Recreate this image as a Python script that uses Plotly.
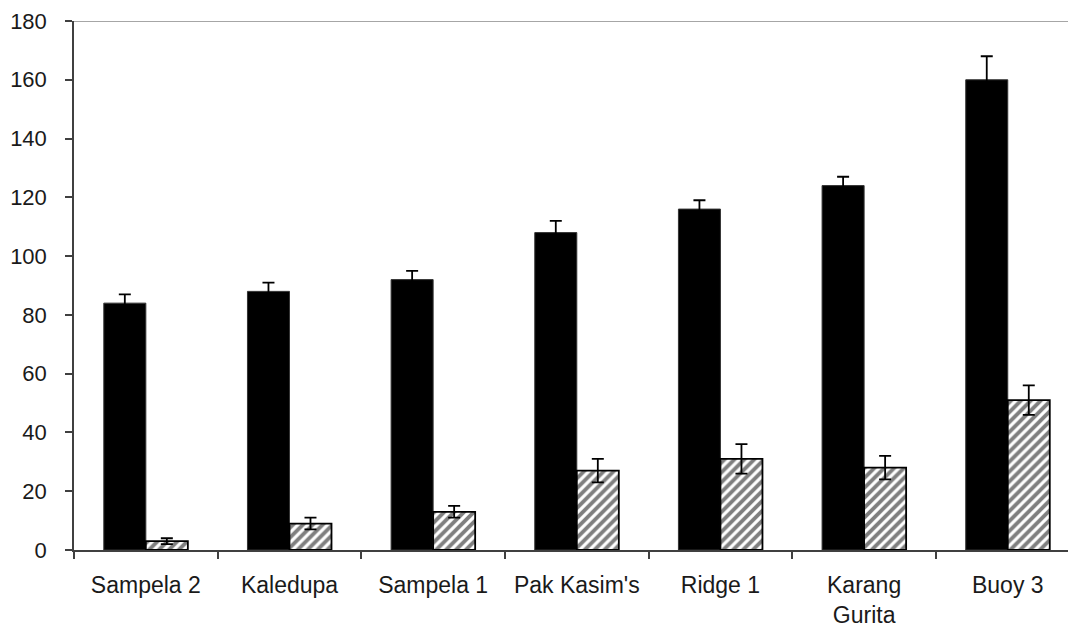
import plotly.graph_objects as go

sites = ["Sampela 2", "Kaledupa", "Sampela 1", "Pak Kasim's", "Ridge 1", "Karang<br>Gurita", "Buoy 3"]
solid_vals = [84, 88, 92, 108, 116, 124, 160]
solid_err = [3, 3, 3, 4, 3, 3, 8]
hatch_vals = [3, 9, 13, 27, 31, 28, 51]
hatch_err = [1, 2, 2, 4, 5, 4, 5]
y_ticks = [0, 20, 40, 60, 80, 100, 120, 140, 160, 180]

fig = go.Figure()
fig.add_trace(go.Bar(
    x=sites, y=solid_vals,
    marker=dict(color="black", line=dict(color="#333333", width=1)),
    error_y=dict(type="data", array=solid_err, color="black", thickness=1.8, width=6),
    showlegend=False,
))
fig.add_trace(go.Bar(
    x=sites, y=hatch_vals,
    marker=dict(color="white", line=dict(color="black", width=1.8),
                pattern=dict(shape="/", fgcolor="black", bgcolor="white", size=7, solidity=0.55)),
    error_y=dict(type="data", array=hatch_err, color="black", thickness=1.8, width=6),
    showlegend=False,
))

fig.add_shape(type="line", xref="paper", yref="y", x0=0, x1=1, y0=180, y1=180,
              line=dict(color="#a6a6a6", width=2))

fig.update_layout(
    width=1068, height=622,
    margin=dict(l=66, r=0, t=13, b=80),
    paper_bgcolor="white", plot_bgcolor="white",
    barmode="group", bargap=0.415, bargroupgap=0,
    font=dict(family="Liberation Sans, Arial, sans-serif", size=23, color="#1a1a1a"),
    xaxis=dict(
        range=[-0.5, 6.475], showline=True, linecolor="#404040", linewidth=1.5,
        ticks="outside", tickson="boundaries", ticklen=7, tickcolor="#404040", tickwidth=1.5,
        ticklabelstandoff=14, showgrid=False, zeroline=False, automargin=False,
        tickfont=dict(size=23),
    ),
    yaxis=dict(
        range=[0, 180], tickvals=y_ticks, showline=True, linecolor="#404040", linewidth=1.5,
        ticks="outside", ticklen=7, tickcolor="#404040", tickwidth=1.5,
        ticklabelstandoff=14, showgrid=False, zeroline=False, automargin=False,
        ticklabeloverflow="allow", tickfont=dict(size=22),
    ),
)

fig.write_html("out.html")
